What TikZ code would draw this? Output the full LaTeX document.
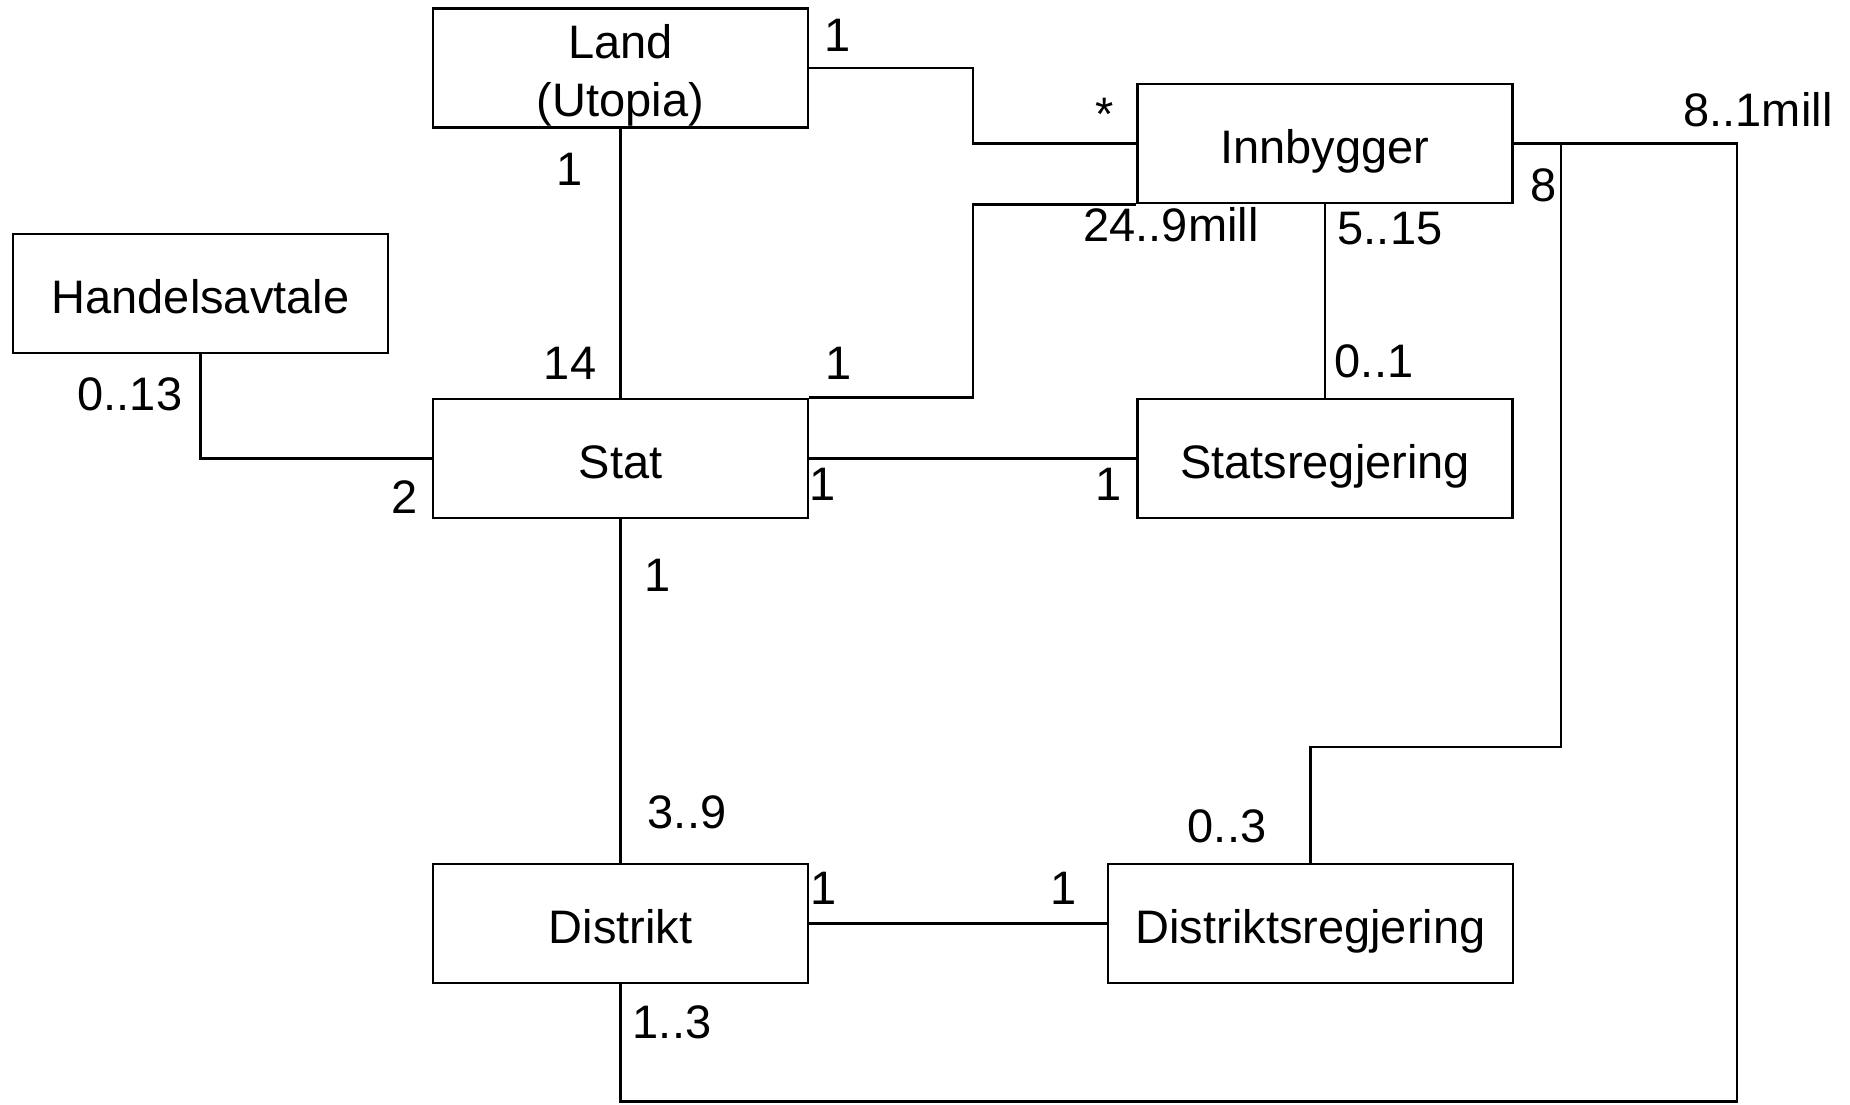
\documentclass[tikz,border=0pt]{standalone}
\usepackage{fontspec}
\setmainfont{Liberation Sans}
\begin{document}
\begin{tikzpicture}[x=0.5pt,y=-0.5pt,
  box/.style={draw=black,line width=1.4pt,minimum width=187.5pt,minimum height=59.5pt,inner sep=0pt,align=center,text height=21pt,text depth=1pt,font=\fontsize{23.5}{29}\selectfont},
  conn/.style={draw=black,line width=1.2pt},
  mult/.style={inner sep=0pt,font=\fontsize{23.5}{28}\selectfont}]
\useasboundingbox (0,0) rectangle (1850,1104);
% classes
\node[box,text height=49pt,text depth=1pt] (land) at (620.5,68) {Land\\(Utopia)};
\node[box] (inn) at (1325,143.5) {Innbygger};
\node[box] (handel) at (200.5,293.5) {Handelsavtale};
\node[box] (stat) at (620.5,458.5) {Stat};
\node[box] (sreg) at (1325,458.5) {Statsregjering};
\node[box] (dist) at (620.5,923.5) {Distrikt};
\node[box,minimum width=202.5pt] (dreg) at (1310.5,923.5) {Distriktsregjering};
% routing coordinates
\coordinate (vx) at (973,0);
\coordinate (a1) at (land.east -| vx);
\coordinate (a2) at (inn.west -| vx);
\coordinate (b1) at (stat.north east -| vx);
\coordinate (b2) at (inn.south west -| vx);
\coordinate (c1) at (stat.west -| handel.south);
\coordinate (wx) at (1561,0);
\coordinate (d1) at (inn.east -| wx);
\coordinate (d2) at (1561,747);
\coordinate (d3) at (d2 -| dreg.north);
\coordinate (ex) at (1737,0);
\coordinate (e1) at (inn.east -| ex);
\coordinate (e2) at (1737,1101.5);
\coordinate (e3) at (e2 -| dist.south);
% connectors
\draw[conn] (land.east) -- (a1) -- (a2) -- (inn.west);
\draw[conn] (stat.north east) -- (b1) -- (b2) -- (inn.south west);
\draw[conn] (land.south) -- (stat.north);
\draw[conn] (inn.south) -- (sreg.north);
\draw[conn] (stat.east) -- (sreg.west);
\draw[conn] (handel.south) -- (c1) -- (stat.west);
\draw[conn] (stat.south) -- (dist.north);
\draw[conn] (dist.east) -- (dreg.west);
\draw[conn] (inn.east) -- (d1) -- (d2) -- (d3) -- (dreg.north);
\draw[conn] (inn.east) -- (e1) -- (e2) -- (e3) -- (dist.south);
% multiplicities
\node[mult] (m1) at (838,35) {1};
\node[mult] (m2) at (1105,114) {*};
\node[mult] (m3) at (570,169) {1};
\node[mult] (m4) at (570,363) {14};
\node[mult] (m5) at (839,363) {1};
\node[mult] (m6) at (1171,225) {24..9mill};
\node[mult] (m7) at (1390,229) {5..15};
\node[mult] (m8) at (1374,361) {0..1};
\node[mult] (m9) at (130,394) {0..13};
\node[mult] (m10) at (405,497) {2};
\node[mult] (m11) at (823,484) {1};
\node[mult] (m12) at (1109,484) {1};
\node[mult] (m13) at (658,575) {1};
\node[mult] (m14) at (687,812) {3..9};
\node[mult] (m15) at (1544,185) {8};
\node[mult] (m16) at (1758,110) {8..1mill};
\node[mult] (m17) at (1227,826) {0..3};
\node[mult] (m18) at (824,888) {1};
\node[mult] (m19) at (1064,888) {1};
\node[mult] (m20) at (672,1022) {1..3};
\end{tikzpicture}
\end{document}
